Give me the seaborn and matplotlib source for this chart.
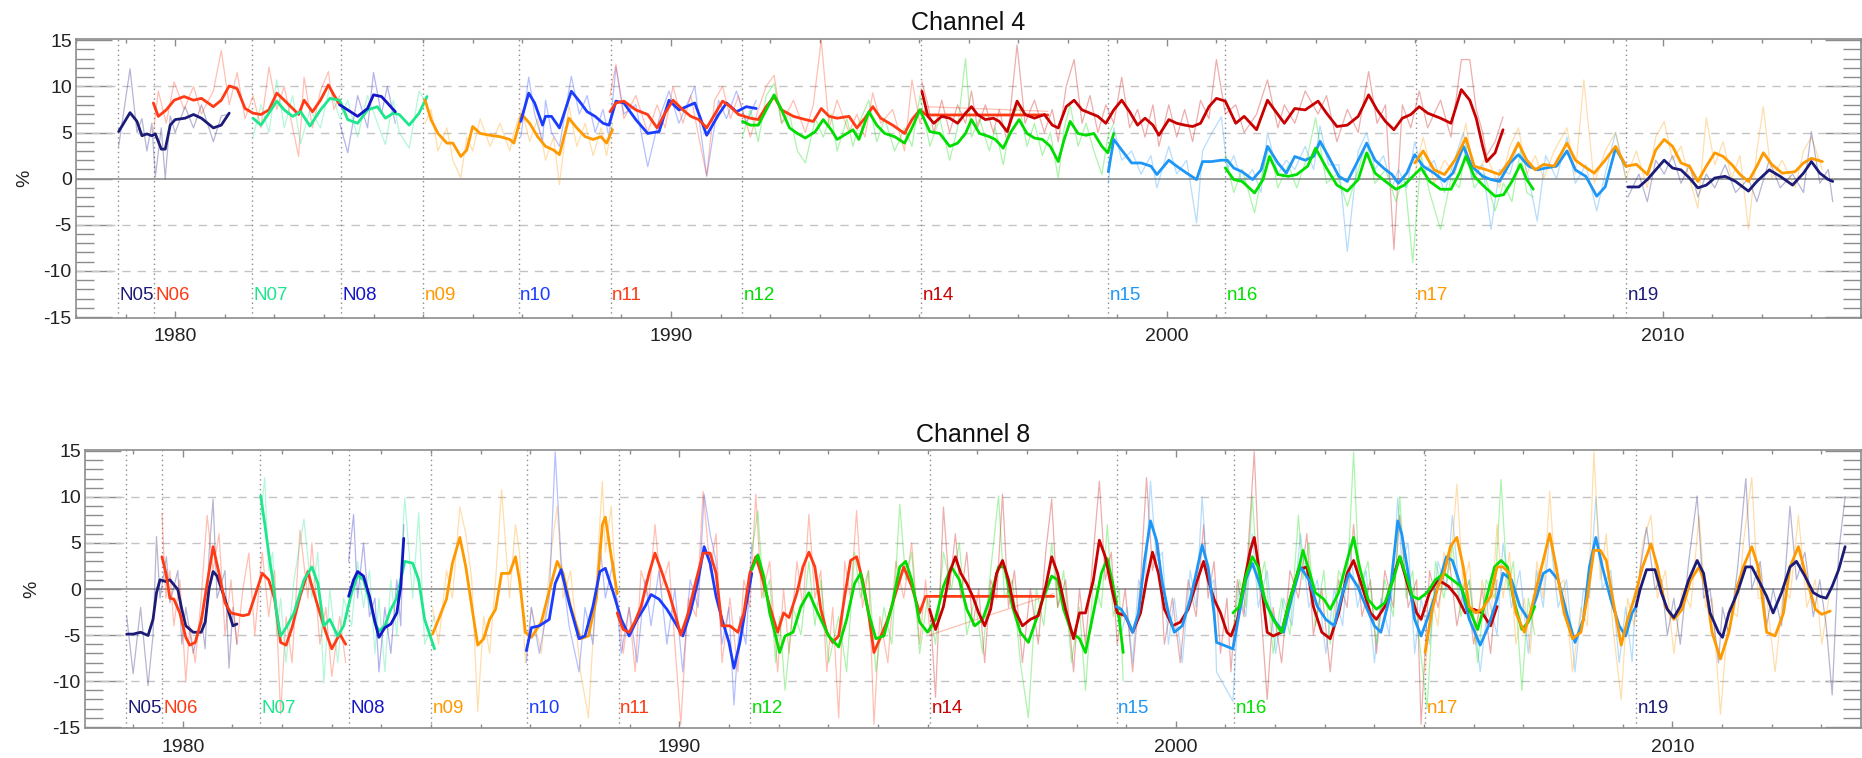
import matplotlib
matplotlib.use("Agg")
import matplotlib.pyplot as plt
import numpy as np
import pandas as pd
import seaborn as sns
from matplotlib.ticker import MultipleLocator

# satellites, their colours and the first year of data (dotted lines + labels)
sats = ["N05", "N06", "N07", "N08", "n09", "n10", "n11", "n12", "n14", "n15", "n16", "n17", "n19"]
sat_colors = ["#1c1c78", "#ff3a14", "#1ee68c", "#1414c8", "#ff9900", "#1a3cff", "#ff3a14",
              "#00dc00", "#c80000", "#1e96f5", "#00e000", "#ff9900", "#1c1c78"]
starts = [1978.85, 1979.58, 1981.55, 1983.34, 1985.0, 1986.93, 1988.78, 1991.43, 1995.05,
          1998.81, 2001.17, 2005.02, 2009.27]

# ---------------- Channel 4: years, smoothed, raw ----------------
c4_N05_t = [1978.86, 1979.09, 1979.23, 1979.33, 1979.43, 1979.53, 1979.6, 1979.72, 1979.8, 1979.9, 1980.0, 1980.2, 1980.37, 1980.53, 1980.77, 1980.93, 1981.09]
c4_N05_s = [5.1, 7.15, 6.2, 4.65, 4.85, 4.65, 4.85, 3.2, 3.2, 5.8, 6.4, 6.55, 6.95, 6.55, 5.5, 5.8, 7.1]
c4_N05_r = [3.5, 11.9, 5.0, 6.5, 3.0, 6.0, 0.2, 5.5, 0.0, 6.8, 5.0, 7.8, 5.5, 8.0, 4.0, 6.8, 7.0]

c4_N06_t = [1979.56, 1979.66, 1979.82, 1979.98, 1980.18, 1980.37, 1980.53, 1980.77, 1980.93, 1981.09, 1981.25, 1981.41, 1981.57, 1981.73, 1981.89, 1982.05, 1982.2, 1982.37, 1982.49, 1982.6, 1982.77, 1982.93, 1983.09, 1983.2, 1983.32]
c4_N06_s = [8.2, 6.75, 7.45, 8.5, 8.9, 8.5, 8.7, 7.8, 8.5, 10.05, 9.75, 7.6, 7.1, 6.95, 7.45, 9.27, 8.5, 7.6, 6.95, 8.5, 7.25, 8.5, 10.15, 9.08, 8.0]
c4_N06_r = [5.0, 9.5, 6.0, 10.5, 7.5, 10.0, 7.0, 9.5, 13.9, 8.0, 11.5, 6.5, 9.0, 5.5, 12.1, 7.5, 10.0, 5.5, 2.4, 11.0, 5.5, 9.5, 11.6, 7.5, 9.0]

c4_N07_t = [1981.57, 1981.73, 1981.89, 1982.05, 1982.2, 1982.37, 1982.53, 1982.72, 1982.93, 1983.12, 1983.32, 1983.48, 1983.68, 1983.88, 1984.08, 1984.24, 1984.4, 1984.52, 1984.72, 1984.92, 1985.08]
c4_N07_s = [6.55, 5.8, 7.1, 8.4, 7.45, 6.75, 7.25, 5.7, 7.45, 8.7, 8.5, 6.4, 6.0, 7.45, 7.8, 6.55, 7.1, 6.95, 5.8, 7.1, 8.9]
c4_N07_r = [4.5, 8.0, 5.0, 10.7, 5.5, 9.0, 3.8, 7.5, 5.5, 10.0, 6.5, 8.5, 4.5, 9.0, 6.0, 3.7, 8.5, 5.0, 3.3, 9.5, 8.0]

c4_N08_t = [1983.32, 1983.48, 1983.68, 1983.88, 1984.0, 1984.16, 1984.28, 1984.44]
c4_N08_s = [8.0, 7.45, 6.75, 7.6, 9.08, 8.9, 8.2, 7.25]
c4_N08_r = [6.0, 2.8, 9.0, 5.5, 11.5, 7.0, 10.0, 6.0]

c4_n09_t = [1985.04, 1985.16, 1985.3, 1985.48, 1985.6, 1985.76, 1985.88, 1986.0, 1986.15, 1986.35, 1986.55, 1986.75, 1986.83, 1986.99, 1987.15, 1987.31, 1987.47, 1987.63, 1987.75, 1987.94, 1988.1, 1988.27, 1988.43, 1988.59, 1988.7, 1988.82]
c4_n09_s = [8.5, 6.4, 4.9, 3.85, 3.85, 2.4, 3.1, 5.65, 4.9, 4.7, 4.55, 4.25, 3.85, 6.95, 6.0, 4.55, 3.5, 3.1, 2.6, 6.55, 5.5, 4.55, 4.25, 4.55, 3.85, 5.3]
c4_n09_r = [6.0, 7.5, 3.0, 5.5, 2.0, 0.1, 4.5, 3.0, 6.5, 3.5, 6.0, 3.0, 5.0, 7.5, 4.0, 6.5, 2.0, 4.5, -0.65, 8.0, 3.5, 6.0, 2.5, 5.5, 2.5, 6.0]

c4_n10_t = [1986.97, 1987.13, 1987.25, 1987.41, 1987.47, 1987.59, 1987.75, 1987.99, 1988.15, 1988.31, 1988.47, 1988.63, 1988.75, 1988.89, 1989.05, 1989.29, 1989.53, 1989.76, 1989.96, 1990.16, 1990.48, 1990.72, 1990.96, 1991.12, 1991.32, 1991.52, 1991.72]
c4_n10_s = [6.2, 9.27, 8.2, 5.8, 6.75, 6.75, 5.5, 9.47, 8.4, 7.25, 6.75, 6.0, 5.8, 8.4, 8.2, 6.4, 4.9, 5.1, 8.5, 7.45, 8.2, 4.7, 6.95, 8.2, 7.25, 7.8, 7.6]
c4_n10_r = [4.5, 11.0, 7.0, 4.0, 8.5, 5.0, 3.5, 11.1, 7.0, 9.0, 5.0, 7.5, 4.5, 12.1, 7.0, 8.0, 1.3, 6.5, 9.5, 6.0, 10.0, 0.25, 8.5, 6.5, 9.5, 6.0, 8.5]

c4_n11_t = [1988.77, 1988.89, 1989.05, 1989.29, 1989.53, 1989.72, 1989.88, 1990.04, 1990.24, 1990.4, 1990.56, 1990.72, 1990.88, 1991.04, 1991.2, 1991.36, 1991.6, 1991.76, 1991.92, 1992.08, 1992.23, 1992.47, 1992.71, 1992.87, 1993.03, 1993.19, 1993.35, 1993.59, 1993.75, 1993.91, 1994.07, 1994.23, 1994.47, 1994.71, 1994.86, 1995.02, 1995.15, 1997.6]
c4_n11_s = [7.25, 8.2, 8.4, 7.45, 6.95, 5.5, 7.1, 8.5, 7.45, 6.75, 6.4, 5.5, 6.95, 8.4, 7.8, 6.95, 6.55, 6.4, 7.8, 8.9, 7.45, 6.75, 6.4, 6.2, 7.6, 6.75, 6.55, 6.75, 5.5, 6.55, 7.8, 6.55, 5.8, 4.9, 6.4, 7.45, 6.9, 6.9]
c4_n11_r = [9.0, 12.4, 6.5, 9.0, 5.0, 8.0, 5.5, 10.0, 6.0, 9.0, 4.5, 0.3, 8.5, 10.0, 6.5, 9.0, 4.5, 7.5, 10.0, 11.2, 6.0, 8.5, 5.0, 8.0, 15.0, 5.5, 8.5, 5.0, 7.0, 4.5, 9.3, 6.0, 7.5, 3.0, 10.7, 6.0, 7.8, 7.3]

c4_n12_t = [1991.44, 1991.6, 1991.76, 1991.92, 1992.08, 1992.23, 1992.39, 1992.55, 1992.71, 1992.91, 1993.07, 1993.23, 1993.35, 1993.55, 1993.67, 1993.79, 1993.99, 1994.15, 1994.31, 1994.51, 1994.71, 1994.86, 1995.02, 1995.22, 1995.42, 1995.62, 1995.78, 1995.94, 1996.06, 1996.22, 1996.42, 1996.54, 1996.7, 1996.86, 1997.02, 1997.18, 1997.33, 1997.49, 1997.65, 1997.81, 1997.93, 1998.05, 1998.21, 1998.37, 1998.53, 1998.69, 1998.81, 1998.93]
c4_n12_s = [6.2, 5.8, 5.8, 7.45, 9.08, 7.45, 5.5, 4.9, 4.4, 5.1, 6.4, 5.3, 4.25, 4.9, 5.3, 4.25, 7.25, 5.8, 4.9, 4.55, 3.85, 5.5, 7.45, 5.1, 4.9, 3.5, 3.85, 4.9, 6.4, 4.9, 4.55, 4.25, 3.3, 5.1, 6.4, 4.9, 4.4, 4.25, 3.5, 1.85, 4.25, 6.2, 4.9, 4.7, 4.9, 3.5, 2.8, 4.9]
c4_n12_r = [4.5, 7.5, 4.0, 9.0, 10.3, 6.0, 7.0, 3.0, 1.7, 6.5, 4.5, 7.0, 3.0, 6.5, 3.5, 6.0, 8.5, 4.0, 6.5, 3.0, 5.5, 3.5, 9.0, 3.5, 6.5, 2.0, 5.5, 13.0, 4.5, 6.5, 3.0, 5.5, 1.5, 6.5, 8.0, 3.5, 6.0, 2.5, 5.0, 0.07, 5.5, 8.0, 3.5, 6.0, 3.0, 0.43, 4.5, 6.0]

c4_n14_t = [1995.06, 1995.18, 1995.3, 1995.46, 1995.62, 1995.78, 1995.94, 1996.06, 1996.18, 1996.34, 1996.5, 1996.62, 1996.78, 1996.98, 1997.14, 1997.33, 1997.53, 1997.69, 1997.81, 1997.97, 1998.13, 1998.29, 1998.45, 1998.61, 1998.77, 1998.93, 1999.09, 1999.25, 1999.41, 1999.56, 1999.72, 1999.84, 2000.04, 2000.2, 2000.36, 2000.52, 2000.68, 2000.85, 2001.0, 2001.18, 2001.39, 2001.56, 2001.81, 2002.03, 2002.24, 2002.37, 2002.58, 2002.79, 2003.05, 2003.22, 2003.43, 2003.64, 2003.86, 2004.07, 2004.24, 2004.41, 2004.58, 2004.75, 2004.92, 2005.09, 2005.26, 2005.52, 2005.73, 2005.94, 2006.11, 2006.24, 2006.37, 2006.45, 2006.62, 2006.78]
c4_n14_s = [9.47, 6.75, 6.0, 6.75, 6.55, 6.0, 7.1, 7.8, 6.95, 6.4, 6.55, 6.2, 5.1, 8.4, 6.95, 6.55, 6.95, 5.8, 5.5, 7.8, 8.5, 7.45, 7.1, 6.75, 6.0, 7.45, 8.5, 7.25, 5.8, 6.55, 5.8, 4.7, 6.4, 6.0, 5.8, 5.65, 6.0, 7.8, 8.7, 8.4, 6.0, 6.75, 5.3, 8.5, 6.95, 6.0, 7.6, 7.45, 8.4, 7.1, 5.65, 5.8, 6.75, 9.08, 7.45, 6.2, 5.3, 6.55, 6.95, 7.8, 7.1, 6.55, 6.0, 9.65, 8.5, 6.55, 3.5, 1.85, 2.8, 5.3]
c4_n14_r = [10.5, 8.0, 5.0, 8.5, 5.0, 8.0, 6.0, 9.5, 5.5, 8.0, 5.0, 7.5, 4.0, 14.5, 6.0, 8.5, 5.0, 7.5, 4.0, 10.0, 12.9, 6.0, 9.0, 5.0, 8.0, 6.0, 11.0, 5.5, 7.5, 4.5, 8.0, 3.5, 8.0, 4.5, 7.5, 4.0, 8.5, 6.5, 12.9, 7.0, 8.0, 5.0, 7.0, 10.7, 5.5, 8.0, 6.0, 9.5, 7.0, 9.0, 4.0, 7.5, 5.0, 11.6, 6.0, 8.0, -7.7, 8.0, 5.5, 9.5, 5.5, 8.5, 4.5, 12.9, 12.9, 7.5, 5.0, 2.5, 4.0, 6.7]

c4_n15_t = [1998.82, 1998.93, 1999.09, 1999.29, 1999.48, 1999.68, 1999.8, 2000.04, 2000.2, 2000.4, 2000.6, 2000.72, 2000.9, 2001.1, 2001.22, 2001.35, 2001.52, 2001.73, 2001.9, 2002.03, 2002.24, 2002.41, 2002.58, 2002.79, 2002.96, 2003.09, 2003.26, 2003.47, 2003.64, 2003.86, 2004.03, 2004.2, 2004.37, 2004.54, 2004.67, 2004.84, 2005.0, 2005.17, 2005.39, 2005.6, 2005.77, 2005.98, 2006.15, 2006.37, 2006.54, 2006.71, 2006.92, 2007.09, 2007.3, 2007.47, 2007.64, 2007.86, 2008.07, 2008.24, 2008.45, 2008.67, 2008.84, 2009.05, 2009.26]
c4_n15_s = [0.75, 4.25, 3.1, 1.7, 1.7, 1.35, 0.45, 2.0, 1.35, 0.6, -0.1, 1.85, 1.85, 2.0, 2.0, 1.15, 0.75, -0.1, 0.95, 3.5, 1.7, 0.6, 2.4, 2.0, 2.4, 4.05, 2.4, 0.25, -0.3, 2.0, 3.85, 2.0, 1.15, 0.45, -0.5, 0.6, 2.6, 1.35, 0.6, -0.3, 0.6, 3.5, 1.35, 0.25, -0.1, -0.3, 1.7, 2.6, 1.35, 0.95, 1.15, 1.35, 3.0, 0.95, 0.25, -1.9, -0.9, 3.3, 1.35]
c4_n15_r = [-0.5, 5.5, 2.0, 3.0, 0.5, 2.5, -1.0, 3.5, 0.5, 2.0, -4.8, 3.0, 4.9, 6.7, 1.0, 2.5, -0.5, 1.0, -1.5, 5.0, 0.5, 2.0, 1.0, 3.5, 1.0, 5.7, 1.5, 1.5, -7.9, 3.0, 5.0, 1.0, 2.5, -1.0, 1.0, -1.0, 4.0, 0.5, 2.0, -1.5, 1.5, 5.0, 0.0, 1.5, -5.5, 1.0, 0.5, 4.0, 0.0, -4.6, 2.5, 0.0, 4.5, -0.5, 1.5, -3.5, 0.5, 5.0, 0.0]

c4_n16_t = [2001.18, 2001.35, 2001.52, 2001.77, 2001.94, 2002.07, 2002.24, 2002.45, 2002.62, 2002.84, 2003.0, 2003.22, 2003.43, 2003.64, 2003.86, 2004.03, 2004.2, 2004.41, 2004.62, 2004.79, 2004.96, 2005.13, 2005.3, 2005.52, 2005.73, 2005.9, 2006.03, 2006.2, 2006.41, 2006.62, 2006.79, 2006.96, 2007.13, 2007.26, 2007.39]
c4_n16_s = [1.15, -0.1, -0.3, -1.55, -0.1, 2.4, 0.45, 0.25, 0.45, 1.35, 3.3, 1.15, -0.7, -1.35, -0.1, 2.8, 0.6, -0.3, -1.15, -0.7, 0.25, 1.15, -0.3, -1.15, -1.15, 0.6, 2.4, 0.25, -0.9, -1.9, -1.75, -0.3, 1.55, -0.1, -1.15]
c4_n16_r = [2.5, -1.5, 1.0, -3.7, 1.0, 3.5, -1.0, 1.5, -1.0, 2.5, 6.6, -0.5, 0.5, -3.0, 1.0, 4.0, -0.5, 1.0, -2.5, 0.5, -9.1, 2.5, -1.5, -5.5, 0.0, -1.0, 3.5, -1.0, 0.5, -3.5, -0.5, -2.5, 3.0, -1.5, -2.0]

c4_n17_t = [2005.0, 2005.17, 2005.39, 2005.6, 2005.81, 2006.03, 2006.2, 2006.45, 2006.71, 2006.92, 2007.09, 2007.26, 2007.43, 2007.6, 2007.81, 2008.07, 2008.24, 2008.41, 2008.62, 2008.84, 2009.05, 2009.26, 2009.47, 2009.69, 2009.86, 2010.03, 2010.2, 2010.37, 2010.54, 2010.71, 2010.88, 2011.05, 2011.22, 2011.39, 2011.56, 2011.73, 2011.9, 2012.03, 2012.2, 2012.41, 2012.67, 2012.84, 2013.0, 2013.22]
c4_n17_s = [1.7, 3.0, 0.95, 0.45, 2.0, 4.4, 1.35, 0.95, 0.45, 2.0, 3.85, 2.0, 0.95, 1.55, 1.35, 3.85, 2.0, 1.35, 0.6, 2.0, 3.5, 1.35, 1.55, 0.45, 3.1, 4.25, 3.5, 1.7, 1.35, -0.3, 1.35, 2.8, 2.4, 1.55, 0.45, -0.3, 1.35, 2.8, 1.55, 0.6, 0.75, 1.7, 2.2, 1.85]
c4_n17_r = [0.5, 4.5, -0.5, 2.0, 0.5, 6.0, 0.0, 2.5, -1.0, 3.5, 5.5, 0.5, 2.5, 0.0, 3.0, 5.5, 0.5, 10.7, -0.5, 3.0, 5.0, 0.0, 3.0, -1.0, 4.5, 6.2, 2.0, 3.5, 0.0, -3.2, 6.6, 1.5, 4.0, 0.0, 2.5, -5.5, 3.0, 7.8, 0.0, 2.0, -1.0, 3.0, 4.5, 1.0]

c4_n19_t = [2009.3, 2009.52, 2009.69, 2009.86, 2010.03, 2010.2, 2010.37, 2010.54, 2010.71, 2010.88, 2011.05, 2011.26, 2011.47, 2011.73, 2011.9, 2012.15, 2012.37, 2012.62, 2012.84, 2013.0, 2013.17, 2013.34, 2013.43]
c4_n19_s = [-0.9, -0.9, -0.1, 0.95, 2.0, 1.15, 0.95, 0.07, -1.0, -0.7, 0.07, 0.25, -0.3, -1.35, -0.3, 0.95, 0.25, -0.7, 0.6, 1.85, 0.6, -0.1, -0.3]
c4_n19_r = [-2.0, 0.5, -2.5, 2.0, 0.5, 2.5, -0.5, 1.5, -2.0, 0.5, -1.0, 1.5, -1.5, 0.0, -2.5, 2.0, -1.0, 0.5, -1.5, 5.1, -0.5, 1.0, -2.5]

# ---------------- Channel 8: years, smoothed, raw ----------------
c8_N05_t = [1978.87, 1979.0, 1979.15, 1979.3, 1979.4, 1979.47, 1979.54, 1979.67, 1979.74, 1979.9, 1979.98, 1980.06, 1980.21, 1980.37, 1980.45, 1980.53, 1980.61, 1980.69, 1980.85, 1980.93, 1981.01, 1981.09]
c8_N05_s = [-4.9, -4.9, -4.7, -5.05, -3.3, -0.4, 1.0, 0.8, 1.0, -0.07, -2.2, -4.0, -4.7, -4.7, -3.6, 0.1, 1.9, 1.4, -1.1, -2.6, -4.0, -3.8]
c8_N05_r = [-3.0, -9.2, -2.0, -10.5, -5.0, 5.7, -1.0, 3.5, -1.5, 2.0, -6.0, -2.0, -7.0, -3.0, -6.5, 4.0, 9.75, -1.0, 2.0, -8.6, -2.0, -6.0]

c8_N06_t = [1979.58, 1979.66, 1979.74, 1979.82, 1979.94, 1980.06, 1980.14, 1980.25, 1980.37, 1980.49, 1980.61, 1980.73, 1980.85, 1980.97, 1981.09, 1981.21, 1981.33, 1981.45, 1981.6, 1981.73, 1981.85, 1981.97, 1982.08, 1982.2, 1982.36, 1982.52, 1982.6, 1982.76, 1982.88, 1983.0, 1983.16, 1983.28]
c8_N06_s = [3.5, 1.7, -1.0, -1.1, -2.6, -5.25, -6.1, -5.8, -3.5, 0.6, 4.6, 1.7, -1.5, -2.6, -2.75, -2.9, -2.75, -0.8, 1.7, 1.0, -1.1, -5.8, -6.1, -4.2, -0.8, 1.9, 0.3, -2.6, -4.7, -6.5, -4.9, -6.0]
c8_N06_r = [8.2, -1.0, 2.0, -4.0, 1.0, -10.1, -4.0, -8.0, -1.0, 8.0, 2.0, 6.0, -5.0, 1.0, -6.0, 0.0, 3.9, -5.0, 4.0, -3.0, 2.0, -13.6, -3.0, -8.0, 6.4, -1.0, 5.0, -6.0, -2.0, -9.5, -3.0, -8.0]

c8_N07_t = [1981.57, 1981.65, 1981.73, 1981.81, 1981.89, 1981.97, 1982.08, 1982.24, 1982.44, 1982.6, 1982.72, 1982.84, 1982.96, 1983.12, 1983.24, 1983.4, 1983.52, 1983.64, 1983.76, 1983.87, 1983.95, 1984.07, 1984.19, 1984.31, 1984.47, 1984.63, 1984.75, 1984.87, 1985.07]
c8_N07_s = [10.1, 7.1, 3.9, 1.0, -2.6, -5.1, -4.2, -2.6, 1.0, 2.4, 0.6, -4.0, -3.3, -5.1, -4.0, -0.4, 1.5, 1.0, -1.2, -3.6, -4.6, -4.0, -2.2, -1.0, 3.0, 2.8, 1.0, -3.3, -6.5]
c8_N07_r = [8.0, 12.1, 2.0, 4.0, -5.0, -1.0, -8.0, 1.0, 7.6, -1.0, 4.0, -10.25, 0.0, -8.0, -1.0, -4.0, 3.0, -2.0, 2.0, -7.0, -1.0, -9.0, 1.0, -5.0, 9.9, -1.0, 8.3, -6.0, -3.0]

c8_N08_t = [1983.34, 1983.44, 1983.52, 1983.64, 1983.76, 1983.87, 1983.95, 1984.07, 1984.19, 1984.31, 1984.39, 1984.45]
c8_N08_s = [-0.8, 1.0, 1.9, 1.4, -0.8, -3.6, -5.25, -4.2, -3.8, -2.6, 0.3, 5.5]
c8_N08_r = [3.0, 8.1, -1.0, 5.0, -3.0, -1.0, -9.0, -2.0, -7.0, 1.0, -4.0, 7.0]

c8_n09_t = [1985.03, 1985.15, 1985.31, 1985.43, 1985.58, 1985.7, 1985.82, 1985.94, 1986.06, 1986.18, 1986.3, 1986.42, 1986.58, 1986.7, 1986.78, 1986.9, 1987.02, 1987.22, 1987.42, 1987.54, 1987.66, 1987.81, 1988.01, 1988.17, 1988.33, 1988.45, 1988.51, 1988.63, 1988.75]
c8_n09_s = [-4.9, -3.3, -1.1, 2.8, 5.6, 2.4, -1.9, -6.1, -5.4, -3.3, -2.2, 1.7, 1.7, 3.5, 1.0, -4.7, -5.25, -3.6, 0.6, 3.0, 1.7, -1.9, -5.4, -5.1, -1.0, 7.0, 7.8, 3.5, -0.5]
c8_n09_r = [-2.0, -6.0, 2.0, -1.0, 8.9, 6.0, 1.0, -13.3, -3.0, -7.0, 1.0, 10.8, -1.0, 7.0, 4.0, -8.0, -2.0, -7.0, 4.0, 9.0, -1.0, 2.0, -9.0, -14.0, 1.0, 11.7, 4.0, 9.0, -3.0]

c8_n10_t = [1986.92, 1987.02, 1987.18, 1987.38, 1987.5, 1987.62, 1987.78, 1987.98, 1988.1, 1988.26, 1988.4, 1988.51, 1988.67, 1988.83, 1988.99, 1989.15, 1989.31, 1989.43, 1989.59, 1989.75, 1989.91, 1990.07, 1990.22, 1990.38, 1990.5, 1990.62, 1990.74, 1990.86, 1991.0, 1991.1, 1991.22, 1991.34, 1991.46]
c8_n10_s = [-6.7, -4.2, -4.0, -3.3, 0.6, 2.1, -1.5, -5.4, -5.1, -1.9, 1.9, 2.25, -0.4, -3.3, -5.1, -3.3, -1.9, -0.6, -1.1, -2.2, -3.6, -5.1, -2.6, 1.0, 4.6, 2.8, -0.8, -3.3, -5.8, -8.6, -5.8, -1.9, 1.7]
c8_n10_r = [-8.0, -2.0, -7.0, -1.0, 14.9, 3.0, -4.0, -9.0, -2.0, -6.0, 5.0, -1.0, 3.0, -7.0, -2.0, -8.0, 1.0, -4.0, 2.0, -6.0, 0.0, -9.0, 1.0, -2.0, 10.3, 6.0, 3.0, -6.0, -2.0, -12.6, -3.0, -6.0, 5.0]

c8_n11_t = [1988.75, 1988.87, 1988.99, 1989.11, 1989.23, 1989.39, 1989.51, 1989.63, 1989.79, 1989.91, 1990.03, 1990.18, 1990.34, 1990.48, 1990.62, 1990.74, 1990.86, 1991.02, 1991.18, 1991.3, 1991.42, 1991.54, 1991.66, 1991.82, 1991.98, 1992.1, 1992.21, 1992.37, 1992.49, 1992.61, 1992.73, 1992.85, 1992.97, 1993.09, 1993.21, 1993.33, 1993.45, 1993.57, 1993.69, 1993.81, 1993.92, 1994.04, 1994.2, 1994.36, 1994.52, 1994.68, 1994.84, 1994.96, 1995.05, 1997.54]
c8_n11_s = [-2.6, -4.4, -4.7, -3.5, -1.9, 1.7, 3.9, 2.1, -0.4, -2.6, -5.0, -2.6, 1.0, 3.9, 3.9, 1.7, -4.0, -4.0, -4.7, -2.6, 1.7, 3.5, 1.4, -1.9, -4.7, -2.6, -3.1, -0.4, 2.4, 4.0, 2.4, -2.2, -4.7, -5.8, -5.1, -0.8, 3.1, 3.5, 1.0, -2.6, -6.9, -5.4, -3.3, -0.4, 2.4, 0.3, -2.6, -0.8, -0.8, -0.8]
c8_n11_r = [-1.0, -7.0, -2.0, -9.0, 2.0, -1.0, 7.0, 0.0, 3.0, -6.0, -14.7, -1.0, -3.0, 10.6, 2.0, 6.0, -8.0, -1.0, -9.0, 1.0, -2.0, 10.3, -1.0, 3.0, -9.0, 0.0, -7.0, 3.0, -2.0, 8.1, -1.0, 2.0, -9.0, -2.0, -14.0, 3.0, -1.0, 8.5, -2.0, 2.0, -14.7, -3.0, -8.0, 3.0, -1.0, 5.0, -6.0, 1.0, -5.0, -0.5]

c8_n12_t = [1991.46, 1991.58, 1991.7, 1991.82, 1991.94, 1992.02, 1992.13, 1992.29, 1992.45, 1992.61, 1992.73, 1992.85, 1993.01, 1993.21, 1993.37, 1993.53, 1993.65, 1993.81, 1993.96, 1994.12, 1994.28, 1994.44, 1994.56, 1994.68, 1994.84, 1995.0, 1995.16, 1995.32, 1995.48, 1995.64, 1995.79, 1995.95, 1996.11, 1996.27, 1996.43, 1996.55, 1996.71, 1996.87, 1997.03, 1997.19, 1997.34, 1997.5, 1997.62, 1997.74, 1997.9, 1998.06, 1998.18, 1998.34, 1998.5, 1998.62, 1998.74, 1998.86, 1998.94]
c8_n12_s = [2.1, 3.7, 1.4, -2.6, -5.1, -6.9, -5.1, -4.7, -1.9, -0.4, -1.9, -3.3, -5.1, -6.3, -3.3, 0.6, 1.7, -2.6, -5.4, -5.1, -1.9, 2.4, 3.0, 1.0, -3.6, -4.7, -3.3, 0.3, 2.4, 1.0, -2.2, -4.0, -3.3, -0.8, 2.4, 2.4, -1.9, -4.7, -5.8, -3.3, -0.8, 1.4, 1.0, -2.2, -4.7, -5.4, -6.9, -2.6, 1.7, 3.3, 0.3, -3.3, -6.9]
c8_n12_r = [4.0, 8.5, -1.0, 1.0, -8.0, -3.0, -11.0, -2.0, -5.0, 3.0, -4.0, 1.0, -8.0, -3.0, -9.0, 4.0, -1.0, 2.0, -9.0, -2.0, -6.0, 9.2, 1.0, 4.0, -7.0, -1.0, -6.0, 4.0, 0.0, 5.0, -5.0, -1.0, -7.0, 2.0, 10.1, -1.0, 1.0, -8.0, -14.0, 0.0, -4.0, 5.0, -2.0, 2.0, -8.0, -2.0, -11.0, 1.0, -2.0, 7.0, -3.0, 0.0, -10.0]

c8_n14_t = [1995.04, 1995.16, 1995.32, 1995.44, 1995.56, 1995.67, 1995.79, 1995.91, 1996.03, 1996.15, 1996.27, 1996.39, 1996.51, 1996.63, 1996.75, 1996.91, 1997.07, 1997.23, 1997.38, 1997.5, 1997.62, 1997.78, 1997.94, 1998.06, 1998.18, 1998.34, 1998.46, 1998.58, 1998.7, 1998.82, 1998.98, 1999.13, 1999.29, 1999.41, 1999.53, 1999.65, 1999.77, 1999.93, 2000.09, 2000.25, 2000.41, 2000.56, 2000.65, 2000.77, 2000.9, 2001.03, 2001.11, 2001.24, 2001.37, 2001.5, 2001.58, 2001.71, 2001.84, 2001.96, 2002.13, 2002.3, 2002.47, 2002.64, 2002.77, 2002.94, 2003.11, 2003.28, 2003.45, 2003.58, 2003.75, 2003.92, 2004.04, 2004.21, 2004.38, 2004.51, 2004.68, 2004.85, 2004.94, 2005.11, 2005.28, 2005.49, 2005.66, 2005.83, 2006.0, 2006.17, 2006.34, 2006.47]
c8_n14_s = [-2.2, -4.4, -1.9, 1.7, 3.5, 1.7, 0.6, -0.8, -2.6, -4.0, -2.2, 1.7, 3.1, 1.0, -2.2, -4.0, -3.3, -2.9, 0.3, 3.5, 1.7, -2.2, -5.4, -2.6, -2.6, 1.0, 5.3, 3.5, 0.3, -2.6, -2.9, -4.7, -2.6, 1.0, 4.0, 1.7, -2.2, -4.0, -3.6, -2.2, 0.6, 3.0, 1.0, -1.1, -2.6, -4.7, -5.1, -3.3, 0.6, 4.2, 5.6, 1.0, -4.7, -5.1, -4.7, -1.1, 2.1, 2.4, -1.9, -4.7, -5.4, -2.6, 1.7, 3.1, 0.3, -2.6, -3.3, -1.9, 1.4, 3.5, 0.3, -2.6, -3.3, -0.4, 1.0, 0.3, -0.8, -2.6, -2.2, -2.6, -4.0, -1.9]
c8_n14_r = [-1.0, -11.8, 8.9, 0.0, 6.0, -1.0, 4.0, -4.0, 0.0, -8.0, 1.0, -1.0, 10.3, -2.0, 2.0, -8.0, 0.0, -6.0, 4.0, 9.75, -2.0, 1.0, -9.0, 0.0, -6.0, 4.0, 11.7, 1.0, 4.0, -6.0, 0.0, -9.0, 1.0, 12.1, 2.0, 5.0, -6.0, -1.0, -8.0, 1.0, -3.0, 7.0, -1.0, 3.0, -7.0, -1.0, -9.0, 1.0, -3.0, 8.0, 14.9, -2.0, -12.0, -2.0, -8.0, 2.0, -1.0, 6.0, -5.0, 0.0, -9.0, 1.0, -2.0, 7.0, -3.0, 1.0, -7.0, 2.0, -2.0, 8.0, -2.0, 1.0, -14.7, 2.0, -2.0, 4.0, -4.0, 1.0, -6.0, 0.0, -7.0, 1.0]

c8_n15_t = [1998.8, 1998.9, 1999.02, 1999.13, 1999.25, 1999.37, 1999.49, 1999.61, 1999.73, 1999.85, 1999.97, 2000.13, 2000.29, 2000.41, 2000.53, 2000.65, 2000.77, 2000.82, 2001.15, 2001.28, 2001.41, 2001.54, 2001.66, 2001.84, 2002.01, 2002.17, 2002.34, 2002.51, 2002.68, 2002.85, 2003.02, 2003.19, 2003.36, 2003.49, 2003.66, 2003.83, 2004.0, 2004.13, 2004.3, 2004.47, 2004.55, 2004.68, 2004.81, 2004.94, 2005.11, 2005.28, 2005.45, 2005.57, 2005.74, 2005.91, 2006.13, 2006.3, 2006.47, 2006.59, 2006.76, 2006.93, 2007.1, 2007.27, 2007.4, 2007.53, 2007.7, 2007.87, 2008.04, 2008.21, 2008.33, 2008.46, 2008.59, 2008.76, 2008.93, 2009.06, 2009.19, 2009.27]
c8_n15_s = [-1.9, -2.2, -3.3, -4.7, -2.6, 3.1, 7.4, 5.3, 0.6, -2.6, -4.7, -4.0, -1.1, 1.7, 4.75, 2.4, -2.6, -5.8, -6.5, -2.6, 1.0, 2.8, 1.0, -1.9, -3.6, -4.7, -0.8, 2.4, 1.0, -1.9, -3.3, -4.0, -0.4, 1.7, 0.3, -1.9, -4.0, -4.7, -1.1, 7.4, 6.0, 1.7, -3.3, -5.1, -2.6, 0.3, 3.5, 3.1, 0.3, -3.3, -6.1, -4.0, -1.1, 1.7, 1.0, -1.9, -3.3, -0.8, 1.7, 2.1, 1.0, -2.6, -5.8, -3.3, 2.4, 5.6, 2.4, -1.1, -4.0, -5.1, -2.6, -1.9]
c8_n15_r = [-1.0, -5.0, -2.0, -8.0, 1.0, -1.0, 11.7, 3.0, 4.0, -6.0, -1.0, -8.0, 2.0, -2.0, 10.0, 0.0, 1.0, -9.0, -12.2, 0.0, -3.0, 6.0, -2.0, 2.0, -7.0, -1.0, -4.0, 6.0, -2.0, 1.0, -7.0, 0.0, -4.0, 5.0, -2.0, 2.0, -8.0, -1.0, -5.0, 9.9, 3.0, 5.0, -7.0, -1.0, -6.0, 3.0, 0.0, 8.0, -2.0, 1.0, -9.0, -1.0, -5.0, 5.0, -2.0, 2.0, -7.0, 2.0, -2.0, 6.0, -2.0, 1.0, -9.0, 0.0, -1.0, 10.0, 0.0, 2.0, -8.0, -2.0, -7.9, 0.0]

c8_n16_t = [2001.15, 2001.28, 2001.41, 2001.54, 2001.66, 2001.79, 2001.96, 2002.13, 2002.3, 2002.47, 2002.56, 2002.68, 2002.81, 2002.98, 2003.11, 2003.28, 2003.45, 2003.58, 2003.7, 2003.87, 2004.04, 2004.21, 2004.38, 2004.51, 2004.64, 2004.77, 2004.89, 2005.06, 2005.23, 2005.4, 2005.57, 2005.74, 2005.91, 2006.08, 2006.25, 2006.42, 2006.55, 2006.68, 2006.8, 2006.97, 2007.1, 2007.23]
c8_n16_s = [-2.6, -1.9, 1.4, 3.5, 2.4, -1.1, -3.3, -4.7, -1.1, 2.1, 4.2, 2.1, -0.4, -1.1, -2.2, -0.4, 3.1, 5.6, 2.4, -1.1, -2.2, -1.5, 1.0, 3.5, 1.4, -0.8, -1.1, -0.4, 1.0, 1.7, 1.0, 0.3, -2.2, -4.4, -1.1, 2.4, 3.1, 2.4, -1.1, -4.4, -3.6, -1.9]
c8_n16_r = [-5.0, 1.0, -2.0, 10.1, 0.0, 3.0, -7.0, -1.0, -5.0, 8.0, 1.0, 5.0, -4.0, 2.0, -6.0, 2.0, 0.0, 14.9, 0.0, 3.0, -6.0, 1.0, -3.0, 10.0, -1.0, 2.0, -5.0, -13.0, 3.0, -1.0, 5.0, -3.0, 1.0, -8.0, 1.0, -1.0, 11.9, 0.0, 3.0, -11.0, -1.0, -5.0]

c8_n17_t = [2005.02, 2005.15, 2005.28, 2005.4, 2005.53, 2005.66, 2005.79, 2005.91, 2006.04, 2006.17, 2006.34, 2006.47, 2006.59, 2006.72, 2006.85, 2007.02, 2007.14, 2007.27, 2007.4, 2007.53, 2007.66, 2007.82, 2007.99, 2008.16, 2008.29, 2008.42, 2008.55, 2008.67, 2008.8, 2008.97, 2009.1, 2009.23, 2009.4, 2009.57, 2009.7, 2009.86, 2010.03, 2010.2, 2010.37, 2010.54, 2010.67, 2010.8, 2010.97, 2011.14, 2011.31, 2011.43, 2011.6, 2011.73, 2011.9, 2012.07, 2012.24, 2012.37, 2012.54, 2012.71, 2012.88, 2013.01, 2013.18]
c8_n17_s = [-6.9, -2.6, 0.3, 1.7, 4.6, 5.6, 2.4, -1.9, -2.6, -2.2, -0.8, 2.4, 2.4, 1.7, -2.6, -4.7, -2.6, 0.3, 3.1, 6.0, 2.4, -2.6, -5.4, -4.7, -0.8, 4.2, 4.2, 3.1, -1.1, -6.1, -3.3, -1.1, 2.4, 4.9, 2.4, -1.9, -3.3, -2.2, 1.0, 2.4, 0.3, -4.7, -7.6, -4.7, 0.3, 2.4, 4.6, 2.4, -4.7, -5.1, -2.6, 2.4, 4.6, 1.0, -2.2, -2.75, -2.4]
c8_n17_r = [-9.0, -1.0, -4.0, 4.0, 2.0, 11.4, 0.0, 3.0, -6.0, 1.0, -4.0, 7.0, -1.0, 4.0, -6.0, -1.0, -7.0, 3.0, -1.0, 10.6, 0.0, 1.0, -9.0, -2.0, -4.0, 14.9, 1.0, 6.0, -4.0, -12.0, -1.0, -4.0, 5.0, 8.0, -1.0, 2.0, -7.0, 0.0, -2.0, 8.0, -2.0, -1.0, -13.6, -2.0, -3.0, 5.0, 12.1, -1.0, -1.0, -9.0, 0.0, -1.0, 8.0, -2.0, 1.0, -6.0, 0.0]

c8_n19_t = [2009.27, 2009.35, 2009.48, 2009.65, 2009.78, 2009.9, 2010.03, 2010.16, 2010.33, 2010.5, 2010.63, 2010.76, 2010.93, 2011.01, 2011.14, 2011.31, 2011.48, 2011.6, 2011.77, 2011.9, 2012.03, 2012.2, 2012.37, 2012.5, 2012.67, 2012.84, 2012.97, 2013.1, 2013.22, 2013.35, 2013.48]
c8_n19_s = [-1.9, -0.07, 2.1, 2.1, -0.4, -2.2, -3.1, -1.9, 1.0, 3.1, 1.7, -2.6, -4.7, -5.25, -2.6, -0.4, 2.4, 2.4, 0.6, -0.8, -2.6, -0.4, 2.4, 3.0, 1.4, -0.4, -0.8, -1.0, 0.3, 2.1, 4.6]
c8_n19_r = [-3.0, 2.0, 6.7, 0.0, 1.0, -5.0, -1.0, -6.0, 3.0, 10.1, -1.0, 0.0, -8.0, -2.0, -5.0, 2.0, 12.0, 0.0, 3.0, -4.0, 0.0, -4.0, 9.0, 1.0, 4.0, -3.0, 1.0, -4.0, -11.5, 4.0, 10.0]

ch4 = [(c4_N05_t, c4_N05_s, c4_N05_r), (c4_N06_t, c4_N06_s, c4_N06_r), (c4_N07_t, c4_N07_s, c4_N07_r),
       (c4_N08_t, c4_N08_s, c4_N08_r), (c4_n09_t, c4_n09_s, c4_n09_r), (c4_n10_t, c4_n10_s, c4_n10_r),
       (c4_n11_t, c4_n11_s, c4_n11_r), (c4_n12_t, c4_n12_s, c4_n12_r), (c4_n14_t, c4_n14_s, c4_n14_r),
       (c4_n15_t, c4_n15_s, c4_n15_r), (c4_n16_t, c4_n16_s, c4_n16_r), (c4_n17_t, c4_n17_s, c4_n17_r),
       (c4_n19_t, c4_n19_s, c4_n19_r)]
ch8 = [(c8_N05_t, c8_N05_s, c8_N05_r), (c8_N06_t, c8_N06_s, c8_N06_r), (c8_N07_t, c8_N07_s, c8_N07_r),
       (c8_N08_t, c8_N08_s, c8_N08_r), (c8_n09_t, c8_n09_s, c8_n09_r), (c8_n10_t, c8_n10_s, c8_n10_r),
       (c8_n11_t, c8_n11_s, c8_n11_r), (c8_n12_t, c8_n12_s, c8_n12_r), (c8_n14_t, c8_n14_s, c8_n14_r),
       (c8_n15_t, c8_n15_s, c8_n15_r), (c8_n16_t, c8_n16_s, c8_n16_r), (c8_n17_t, c8_n17_s, c8_n17_r),
       (c8_n19_t, c8_n19_s, c8_n19_r)]


def to_frame(series):
    parts = []
    for sat, (t, s, r) in zip(sats, series):
        n = min(len(t), len(s), len(r))
        parts.append(pd.DataFrame({"year": t[:n], "smooth": s[:n], "raw": r[:n], "sat": sat}))
    return pd.concat(parts, ignore_index=True)


sns.set_theme(style="white")
plt.rcParams['font.family'] = ['Liberation Sans', 'DejaVu Sans']
plt.rcParams['axes.unicode_minus'] = False
palette = dict(zip(sats, sat_colors))
GRAY = "#8c8c8c"


def draw_panel(ax, df, title, xlim, label_y, title_pad, xpad):
    # reference lines
    ax.axhline(0, color=GRAY, lw=1.2, zorder=1)
    for v in [-10, -5, 5, 10]:
        ax.axhline(v, color="#c4c4c4", lw=1.0, ls=(0, (6, 5)), zorder=1)
    for x0 in starts:
        ax.axvline(x0, color="#8a8a8a", lw=1.0, ls=(0, (1, 2.5)), zorder=1)

    sns.lineplot(data=df, x="year", y="raw", hue="sat", hue_order=sats, palette=palette,
                 estimator=None, sort=False, lw=0.9, alpha=0.32, legend=False, ax=ax, zorder=2)
    sns.lineplot(data=df, x="year", y="smooth", hue="sat", hue_order=sats, palette=palette,
                 estimator=None, sort=False, lw=2.0, legend=False, ax=ax, zorder=3)

    for name, col, x0 in zip(sats, sat_colors, starts):
        ax.text(x0 + 0.03, label_y, name, color=col, fontsize=13.5, ha="left", va="center", zorder=5)

    ax.set_xlim(*xlim)
    ax.set_ylim(-15.1, 15.1)
    ax.set_title(title, fontsize=18, pad=title_pad, color="#111111")
    ax.set_xlabel("")
    ax.set_ylabel("%", fontsize=14, color="#222222")
    ax.set_xticks([1980, 1990, 2000, 2010])
    ax.xaxis.set_minor_locator(MultipleLocator(1))
    ax.set_yticks([-15, -10, -5, 0, 5, 10, 15])
    ax.yaxis.set_minor_locator(MultipleLocator(1))
    ax.tick_params(axis="x", which="major", direction="in", length=5, width=1, color=GRAY,
                   top=True, bottom=True, labelsize=14, pad=xpad, labelcolor="#222222")
    ax.tick_params(axis="x", which="minor", direction="in", length=3, width=1, color=GRAY,
                   top=True, bottom=True)
    ax.tick_params(axis="y", which="major", direction="in", length=26, width=1, color=GRAY,
                   left=True, right=True, labelsize=14, pad=3, labelcolor="#222222")
    ax.tick_params(axis="y", which="minor", direction="in", length=13, width=1, color=GRAY,
                   left=True, right=True)
    for sp in ax.spines.values():
        sp.set_color(GRAY)
        sp.set_linewidth(1.2)


W, H = 1862, 758
fig = plt.figure(figsize=(W / 100, H / 100), dpi=100)
ax1 = fig.add_axes([76 / W, 1 - 318 / H, (1861 - 76) / W, (318 - 39.3) / H])
ax2 = fig.add_axes([85 / W, 1 - 728 / H, (1861 - 85) / W, (728 - 450) / H])

draw_panel(ax1, to_frame(ch4), "Channel 4", (1978.0, 2014.0), -12.65, 7, 7)
draw_panel(ax2, to_frame(ch8), "Channel 8", (1978.03, 2013.8), -13.0, 6, 8)
ax1.yaxis.set_label_coords(-0.024, 0.5)
ax2.yaxis.set_label_coords(-0.025, 0.5)

fig.savefig("out.png", dpi=100)
